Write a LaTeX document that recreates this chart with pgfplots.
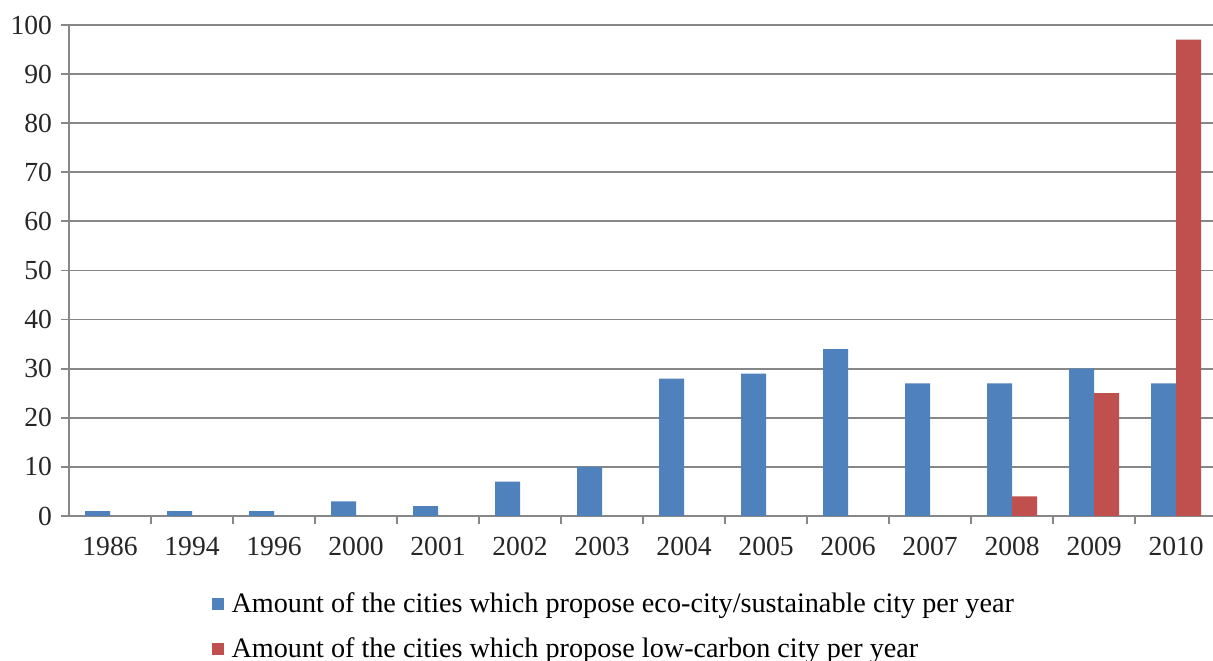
\documentclass[border=0pt]{standalone}
\usepackage{pgfplots}
\pgfplotsset{compat=1.18}
\usepackage{fontspec}
\setmainfont{Liberation Serif}
\definecolor{ecoblue}{HTML}{4F81BD}
\definecolor{lowred}{HTML}{C0504D}
\definecolor{gridgray}{HTML}{878787}
\begin{document}
\begin{tikzpicture}
\begin{axis}[
    scale only axis,
    width=572pt,
    height=245.5pt,
    ybar=0pt,
    bar width=12.5pt,
    xmin=-0.5, xmax=13.45,
    ymin=0, ymax=100,
    ytick={0,10,...,100},
    xtick={0,...,13},
    xticklabels={1986,1994,1996,2000,2001,2002,2003,2004,2005,2006,2007,2008,2009,2010},
    minor xtick={0.5,1.5,...,12.5},
    axis x line*=bottom,
    axis y line*=left,
    axis line style={gridgray, line width=0.9pt},
    ymajorgrids,
    grid style={gridgray, line width=0.9pt},
    major x tick style={draw=none},
    minor x tick style={gridgray, line width=0.9pt},
    major tick length=4pt,
    minor tick length=4pt,
    y tick style={gridgray, line width=0.9pt},
    tick align=outside,
    xticklabel style={yshift=-3pt},
    yticklabel style={xshift=-1pt},
    ticklabel style={font=\fontsize{13.8}{15}\selectfont, text=black!85},
    /pgf/number format/assume math mode=true,
    legend style={
        at={(0.119,-0.138)}, anchor=north west,
        draw=none, fill=none,
        font=\fontsize{14.1}{16}\selectfont,
        legend columns=1,
        row sep=7.5pt,
        /tikz/every odd column/.append style={column sep=2pt},
    },
    legend cell align=left,
    legend image code/.code={\fill[#1] (0pt,-3pt) rectangle (6pt,3pt);},
]
\addplot[fill=ecoblue, draw=none] coordinates {
    (0,1) (1,1) (2,1) (3,3) (4,2) (5,7) (6,10)
    (7,28) (8,29) (9,34) (10,27) (11,27) (12,30) (13,27)
};
\addlegendentry{Amount of the cities which propose eco-city/sustainable city per year}
\addplot[fill=lowred, draw=none] coordinates {
    (11,4) (12,25) (13,97)
};
\addlegendentry{Amount of the cities which propose low-carbon city per year}
\coordinate (tl) at (rel axis cs:0,1);
\coordinate (br) at (rel axis cs:1,0);
\end{axis}
\pgfresetboundingbox
\path ([xshift=-34.5pt, yshift=12.5pt]tl) rectangle ([yshift=-72.5pt]br);
\end{tikzpicture}
\end{document}
